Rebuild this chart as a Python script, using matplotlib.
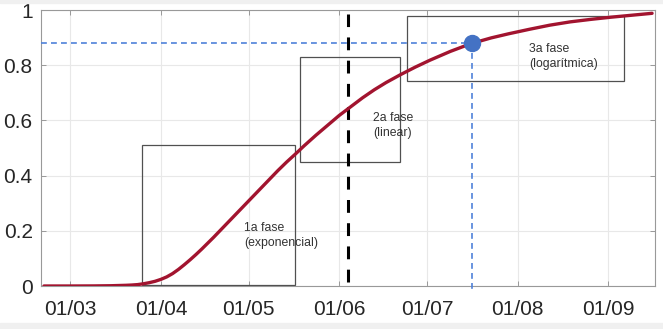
import numpy as np
import pandas as pd
import matplotlib
matplotlib.use("Agg")
import matplotlib.pyplot as plt
import matplotlib.dates as mdates
from matplotlib.patches import Rectangle

plt.rcParams['font.family'] = ['Liberation Sans', 'DejaVu Sans']

# curve (fraction of the final value)
curve_dates = ["2020-02-21", "2020-03-01", "2020-03-09", "2020-03-15", "2020-03-20",
               "2020-03-22", "2020-03-24", "2020-03-26", "2020-03-28", "2020-03-30",
               "2020-04-01", "2020-04-03", "2020-04-05", "2020-04-07", "2020-04-09",
               "2020-04-11", "2020-04-13", "2020-04-15", "2020-04-17", "2020-04-19",
               "2020-04-21", "2020-04-23", "2020-04-25", "2020-04-27", "2020-04-29",
               "2020-05-01", "2020-05-03", "2020-05-05", "2020-05-08", "2020-05-11",
               "2020-05-14", "2020-05-17", "2020-05-20", "2020-05-24", "2020-05-28",
               "2020-06-01", "2020-06-05", "2020-06-09", "2020-06-13", "2020-06-17",
               "2020-06-22", "2020-06-27", "2020-07-02", "2020-07-09", "2020-07-16",
               "2020-07-23", "2020-07-29", "2020-08-05", "2020-08-12", "2020-08-19",
               "2020-08-26", "2020-09-02", "2020-09-09", "2020-09-16"]
curve_values = [0.0, 0.0, 0.0003, 0.001, 0.0025,
                0.0035, 0.005, 0.008, 0.012, 0.017,
                0.024, 0.033, 0.045, 0.060, 0.077,
                0.095, 0.114, 0.134, 0.155, 0.176,
                0.198, 0.220, 0.242, 0.264, 0.286,
                0.308, 0.330, 0.352, 0.385, 0.418,
                0.449, 0.478, 0.508, 0.546, 0.582,
                0.618, 0.650, 0.682, 0.711, 0.737,
                0.766, 0.793, 0.818, 0.850, 0.878,
                0.899, 0.914, 0.930, 0.945, 0.957,
                0.966, 0.974, 0.981, 0.988]

# highlighted point and the peak-day marker
point_date = "2020-07-16 12:00"
point_value = 0.88
peak_date = "2020-06-04"

# phase boxes: (start, end, bottom, top) and their labels
phase_starts = ["2020-03-25 12:00", "2020-05-18 10:00", "2020-06-24 02:00"]
phase_ends = ["2020-05-16 17:00", "2020-06-21 19:00", "2020-09-06 12:00"]
phase_bottoms = [0.003, 0.448, 0.743]
phase_tops = [0.512, 0.829, 0.978]
phase_labels = ["1a fase\n(exponencial)", "2a fase\n(linear)", "3a fase\n(logarítmica)"]
label_dates = ["2020-04-29 14:00", "2020-06-12 12:00", "2020-08-05 00:00"]
label_values = [0.183, 0.58, 0.831]

x_ticks = ["2020-03-01", "2020-04-01", "2020-05-01", "2020-06-01",
           "2020-07-01", "2020-08-01", "2020-09-01"]
y_ticks = [0, 0.2, 0.4, 0.6, 0.8, 1]
y_labels = ["0", "0.2", "0.4", "0.6", "0.8", "1"]

to_num = lambda s: mdates.date2num(pd.to_datetime(s))

fig = plt.figure(figsize=(6.63, 3.29), dpi=100)
fig.patches.append(Rectangle((0, 1 - 3 / 329), 1, 3 / 329, transform=fig.transFigure,
                             color="#f0f0f0", zorder=0))
fig.patches.append(Rectangle((0, 0), 1, 6 / 329, transform=fig.transFigure,
                             color="#f0f0f0", zorder=0))
ax = fig.add_axes([41 / 663, 43 / 329, 614 / 663, 276 / 329])

xs = [to_num(d) for d in curve_dates]
ax.plot(xs, curve_values, color="#A2142F", lw=2.4, solid_capstyle="round",
        solid_joinstyle="round", zorder=4)

# boxes around the three phases
for s, e, b, t in zip(phase_starts, phase_ends, phase_bottoms, phase_tops):
    x0, x1 = to_num(s), to_num(e)
    ax.add_patch(Rectangle((x0, b), x1 - x0, t - b, fill=False,
                           edgecolor="#505050", lw=0.9, zorder=3))
for lab, d, v in zip(phase_labels, label_dates, label_values):
    ax.text(to_num(d), v, lab, ha="left", va="center", fontsize=8.8,
            color="#333333", linespacing=1.35, zorder=5)

# peak-day vertical
px = to_num(peak_date)
ax.plot([px, px], [0.015, 0.985], color="black", lw=2.2,
        dashes=(4.2, 3.4), zorder=3)

# dashed guides to the highlighted point
dx = to_num(point_date)
ax.plot([to_num("2020-02-20"), dx], [point_value, point_value], color="#4f81d9",
        lw=1.2, dashes=(3.5, 2.5), zorder=3)
ax.plot([dx, dx], [point_value, -0.015], color="#4f81d9", lw=1.2,
        dashes=(3.5, 2.5), zorder=3, clip_on=False)
ax.plot([dx], [point_value], "o", ms=11.5, color="#4472C4", zorder=6)

ax.set_xlim(to_num("2020-02-20"), to_num("2020-09-17"))
ax.set_ylim(0, 1)
ax.set_xticks([to_num(d) for d in x_ticks])
ax.xaxis.set_major_formatter(mdates.DateFormatter("%d/%m"))
ax.set_yticks(y_ticks)
ax.set_yticklabels(y_labels)

ax.grid(True, color="#e8e8e8", lw=0.8, zorder=0)
ax.set_axisbelow(True)
for sp in ax.spines.values():
    sp.set_color("#999999")
    sp.set_linewidth(0.8)
ax.tick_params(direction="in", length=3.6, width=0.7, color="#999999",
               labelsize=15, labelcolor="#262626", top=True, right=True)
ax.tick_params(axis="x", pad=10)
ax.tick_params(axis="y", pad=6)

fig.savefig("out.png", dpi=100)
